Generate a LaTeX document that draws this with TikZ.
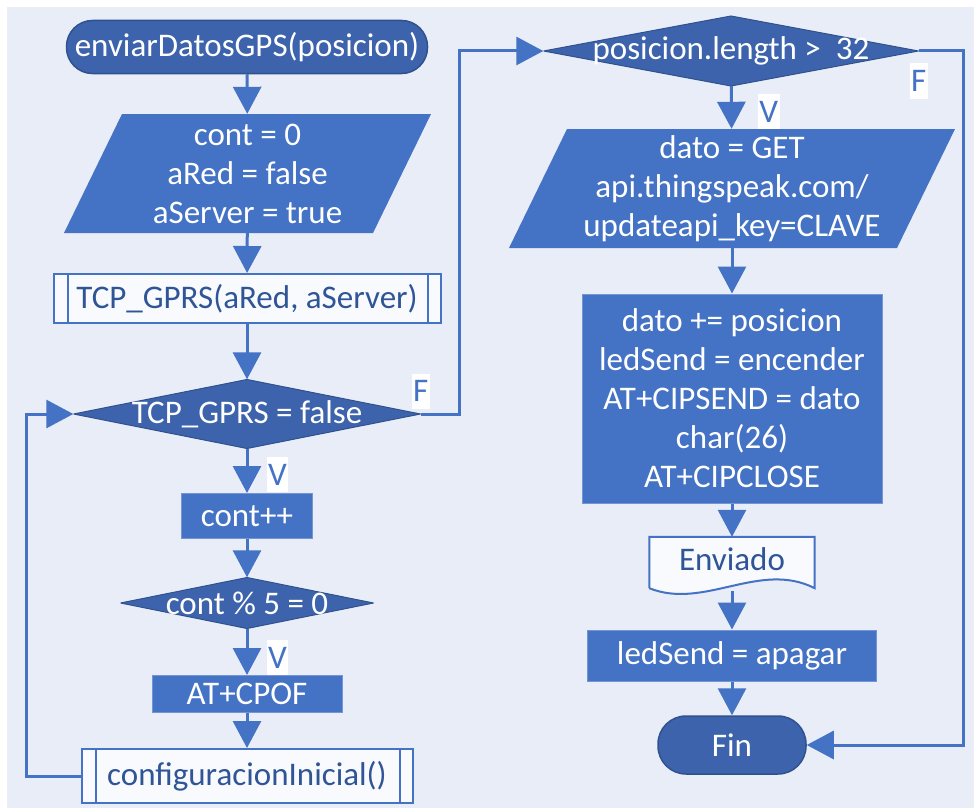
\documentclass[tikz,border=0pt]{standalone}
\usepackage{fontspec}
\setmainfont{Carlito}
\usepackage{xcolor}
\usetikzlibrary{arrows.meta,positioning}
\definecolor{bgblue}{HTML}{E9EDF7}
\definecolor{procblue}{HTML}{4472C4}
\definecolor{dkblue}{HTML}{3D63AC}
\definecolor{edgeblue}{HTML}{2F528F}
\definecolor{subtext}{HTML}{2F5597}
\pgfdeclarelayer{back}
\pgfsetlayers{back,main}
\tikzset{
  base/.style={font=\fontsize{33}{39}\selectfont, align=center, inner sep=0pt},
  proc/.style={base, text=white, fill=procblue, draw=procblue!75!white, line width=1pt},
  term/.style={base, text=white, fill=dkblue, draw=edgeblue, line width=1.5pt, rounded corners=26pt},
  io/.style={base, text=white, path picture={\fill[procblue]
    ([xshift=58pt]path picture bounding box.north west) -- (path picture bounding box.north east)
    -- ([xshift=-58pt]path picture bounding box.south east) -- (path picture bounding box.south west) -- cycle;}},
  decision/.style={base, text=white, path picture={\filldraw[fill=dkblue, draw=edgeblue, line width=1pt]
    (path picture bounding box.north) -- (path picture bounding box.east)
    -- (path picture bounding box.south) -- (path picture bounding box.west) -- cycle;}},
  subr/.style={base, text=subtext, fill=white!70!bgblue, draw=procblue, line width=2pt},
  lbl/.style={base, text=procblue, fill=white, inner xsep=1.5pt, minimum height=35pt},
  flow/.style={procblue, line width=3pt, -{Triangle[width=28pt,length=27pt]}}
}
\begin{document}
\begin{tikzpicture}[x=1pt,y=-1pt]
\useasboundingbox (0,0) rectangle (974,808);
\node[term, minimum width=361pt, minimum height=53pt] (start) at (247,47) {enviarDatosGPS(posicion)};
\node[io, minimum width=367pt, minimum height=119pt] (ini) at (247.5,173.5) {cont = 0\\aRed = false\\aServer = true};
\node[subr, minimum width=387pt, minimum height=49pt] (gprs) at (247,298.5) {TCP\_GPRS(aRed, aServer)};
\node[decision, minimum width=347pt, minimum height=69pt] (chk) at (247,414) {TCP\_GPRS = false};
\node[proc, minimum width=131pt, minimum height=45pt] (inc) at (247,516) {cont++};
\node[decision, minimum width=253pt, minimum height=51pt] (mod) at (247,603) {cont \% 5 = 0};
\node[proc, minimum width=190pt, minimum height=37pt] (cpof) at (247,694) {AT+CPOF};
\node[subr, minimum width=331pt, minimum height=54pt] (cfg) at (247,776) {configuracionInicial()};
\draw[subr] ([xshift=15pt]gprs.north west) -- ([xshift=15pt]gprs.south west)
  ([xshift=-14pt]gprs.north east) -- ([xshift=-14pt]gprs.south east)
  ([xshift=15pt]cfg.north west) -- ([xshift=15pt]cfg.south west)
  ([xshift=-14pt]cfg.north east) -- ([xshift=-14pt]cfg.south east);

\node[decision, minimum width=375pt, minimum height=70pt] (len) at (731,51) {posicion.length >\ \ 32};
\node[io, minimum width=446pt, minimum height=119pt] (get) at (732,188.5) {dato = GET\\api.thingspeak.com/\\updateapi\_key=CLAVE};
\node[proc, minimum width=300pt, minimum height=209pt] (send) at (732,398.5) {dato += posicion\\ledSend = encender\\AT+CIPSEND = dato\\char(26)\\AT+CIPCLOSE};
\node[base, text=subtext, minimum width=165pt, minimum height=44pt] (env) at (732,559) {Enviado};
\node[proc, minimum width=289pt, minimum height=51pt] (led) at (732,655.5) {ledSend = apagar};
\node[term, minimum width=148pt, minimum height=58pt, rounded corners=28pt] (fin) at (732,745) {Fin};
\begin{pgfonlayer}{back}
\fill[bgblue] (7,7) rectangle (974,808);
\filldraw[fill=white!70!bgblue, draw=procblue, line width=2pt] ([yshift=-7pt]env.south west) -- (env.north west) -- (env.north east)
  -- ([yshift=-7pt]env.south east) .. controls +(-55,-28) and +(55,22) .. ([yshift=-7pt]env.south west);
\end{pgfonlayer}

\path[flow] (start) edge (ini) (ini) edge (gprs) (gprs) edge (chk)
  (chk) edge node[lbl, anchor=west, xshift=18pt, yshift=-4pt] {V} (inc)
  (inc) edge (mod)
  (mod) edge node[lbl, anchor=west, xshift=18pt, yshift=-6pt] {V} (cpof)
  (cpof) edge (cfg);
\draw[flow] (cfg.west) -- ++(-54,0) |- (chk.west);
\draw[flow] (chk.east) -- node[lbl, pos=0, anchor=south, yshift=4pt] {F} ++(39,0) |- (len.west);
\path[flow] (len) edge node[lbl, anchor=west, xshift=25pt, yshift=-4pt] {V} (get)
  (get) edge (send) (send) edge (env.north)
  ([yshift=-10pt]env.south) edge (led) (led) edge (fin);
\draw[flow] (len.east) -- node[lbl, pos=0, anchor=north, yshift=-11pt] {F} ++(45,0) |- (fin.east);
\end{tikzpicture}
\end{document}
